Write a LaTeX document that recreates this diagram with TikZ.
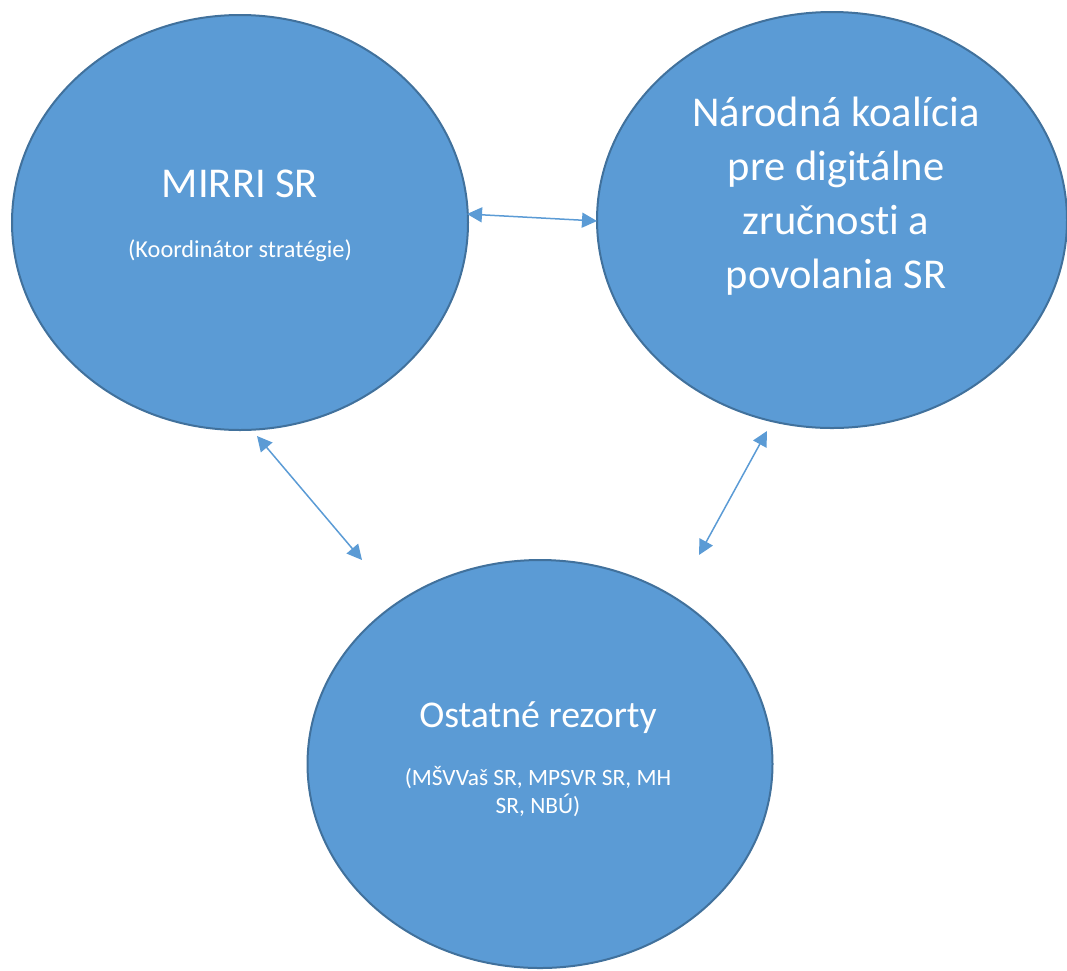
\documentclass[tikz,border=0pt]{standalone}
\usepackage{fontspec}
\setmainfont{Carlito}[Ligatures=NoCommon]
\usetikzlibrary{shapes.geometric,arrows.meta}
\definecolor{vyplnmodra}{HTML}{5B9BD5}
\definecolor{okrajmodra}{HTML}{41719C}
\begin{document}
\begin{tikzpicture}[x=1pt,y=-1pt,line join=round,line cap=round,>={Triangle[length=15pt,width=15pt]}]
	\tikzset{
		uzol/.style={ellipse,fill=vyplnmodra,draw=okrajmodra,line width=2pt,inner sep=0pt},
		nadpis/.style={text=white,inner sep=0pt,anchor=base,font=\fontsize{37.8}{45}\selectfont},
		vacsi/.style={text=white,inner sep=0pt,anchor=base,align=center,font=\fontsize{42.5}{53.7}\selectfont},
		popis/.style={text=white,inner sep=0pt,anchor=base,align=center,font=\fontsize{23.4}{28}\selectfont},
		spojka/.style={<->,draw=vyplnmodra,line width=1.5pt}
	}
	\useasboundingbox (0,0) rectangle (1067,970);
	
	\node[uzol,minimum width=456pt,minimum height=415pt] (mirri) at (240,222.5) {};
	\node[uzol,minimum width=470pt,minimum height=416pt] (koalicia) at (832,220) {};
	\node[uzol,minimum width=465pt,minimum height=408pt] (rezorty) at (540,764) {};
	
	\node[nadpis,font=\fontsize{42.5}{50}\selectfont] (mirriNazov) at (240,197) {MIRRI SR};
	\node[popis,font=\fontsize{24.3}{29}\selectfont] (mirriPopis) at (240,257) {(Koordinátor stratégie)};
	
	% posledny riadok na baseline 288
	\node[vacsi] (koaliciaNazov) at (836,288) {Národná koalícia\\pre digitálne\\zručnosti a\\povolania SR};
	
	\node[nadpis] (rezortyNazov) at (538,727) {Ostatné rezorty};
	\node[popis] (rezortyPopis) at (538,813) {(MŠVVaš SR, MPSVR SR, MH\\SR, NBÚ)};
	
	\coordinate (A1) at (467,214);
	\coordinate (A2) at (597,221);
	\coordinate (B1) at (257,436);
	\coordinate (B2) at (362,560);
	\coordinate (C1) at (767,431);
	\coordinate (C2) at (699,555);
	
	\draw[spojka] (A1) -- (A2);
	\draw[spojka] (B1) -- (B2);
	\draw[spojka] (C1) -- (C2);
\end{tikzpicture}
\end{document}
